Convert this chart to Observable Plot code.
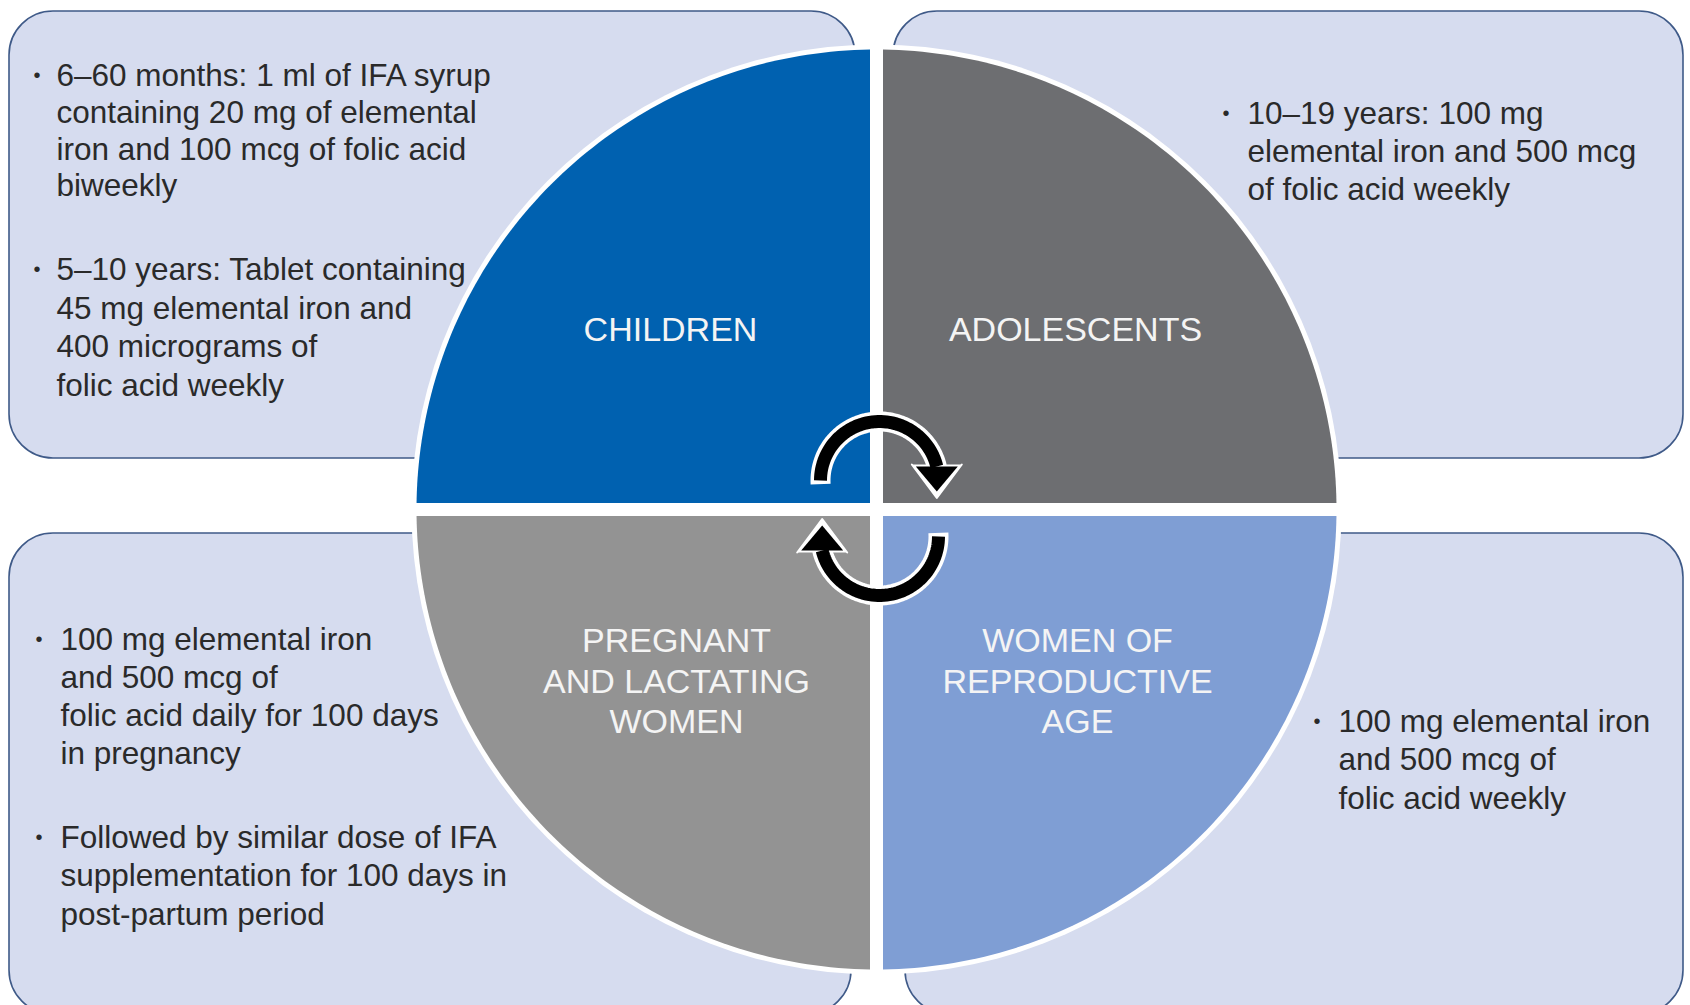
<!DOCTYPE html>
<html>
<head>
<meta charset="utf-8">
<script src="https://cdn.jsdelivr.net/npm/d3@7"></script>
<script src="https://cdn.jsdelivr.net/npm/@observablehq/plot@0.6"></script>
<style>
  html, body { margin: 0; padding: 0; background: #ffffff; }
  #chart svg { display: block; }
</style>
</head>
<body>
<div id="chart"></div>
<script>
// ---------- DATA ----------
const groups = ["CHILDREN", "ADOLESCENTS", "PREGNANT\nAND LACTATING\nWOMEN", "WOMEN OF\nREPRODUCTIVE\nAGE"];

const childrenBullets = [
  "6–60 months: 1 ml of IFA syrup\ncontaining 20 mg of elemental\niron and 100 mcg of folic acid\nbiweekly",
  "5–10 years: Tablet containing\n45 mg elemental iron and\n400 micrograms of\nfolic acid weekly"
];
const adolescentBullets = [
  "10–19 years: 100 mg\nelemental iron and 500 mcg\nof folic acid weekly"
];
const pregnantBullets = [
  "100 mg elemental iron\nand 500 mcg of\nfolic acid daily for 100 days\nin pregnancy",
  "Followed by similar dose of IFA\nsupplementation for 100 days in\npost-partum period"
];
const womenBullets = [
  "100 mg elemental iron\nand 500 mcg of\nfolic acid weekly"
];
const bulletsByGroup = [childrenBullets, adolescentBullets, pregnantBullets, womenBullets];

// ---------- STYLE / LAYOUT ----------
const palette = {
  quadrants: ["#0061b0", "#6d6e71", "#939393", "#7f9ed4"],
  boxFill: "#d6dcef",
  boxStroke: "#3f5a88",
  text: "#2a2a2a",
  label: "#f4f4f4"
};
const L = {
  W: 1690, H: 1005,
  cx: 876, cy: 509, R: 460, gap: 6.5,
  signs: [[-1, -1], [1, -1], [-1, 1], [1, 1]],
  boxes: [
    {x1: 9, x2: 855, y1: 11, y2: 458},
    {x1: 893, x2: 1683, y1: 11, y2: 458},
    {x1: 9, x2: 851, y1: 533, y2: 1014},
    {x1: 905, x2: 1683, y1: 533, y2: 1014}
  ],
  labelPos: [[670, 330], [1075, 330], [676, 641], [1077, 641]],
  labelLH: 40.5,
  // per group, per bullet: [bulletX, textX, firstLineY, lineHeight]
  blockPos: [
    [[33, 56, 75.5, 36.8], [33, 56, 269.5, 38.7]],
    [[1222, 1247, 113, 38.3]],
    [[35, 60, 639, 38.0], [35, 60, 837.5, 38.3]],
    [[1313, 1338, 721, 38.8]]
  ],
  // arrows: top arrow centre, radius, end angle; bottom arrow = 180° rotation about pivot
  arrowC: [879, 480], pivot: [879, 508], arrowR: 59, arrowEnd: 0.24,
  headW: 21, headL: 25
};

// ---------- DERIVED GEOMETRY ----------
const boxes = L.boxes.map((b, i) => ({...b, g: groups[i]}));

const quadPts = [];
const a0 = Math.asin(L.gap / L.R), a1 = Math.PI / 2 - a0;
L.signs.forEach(([sx, sy], qi) => {
  quadPts.push({q: qi, x: L.cx + sx * L.gap, y: L.cy + sy * L.gap});
  for (let k = 0; k <= 90; k++) {
    const a = a0 + (a1 - a0) * k / 90;
    quadPts.push({q: qi, x: L.cx + sx * L.R * Math.cos(a), y: L.cy + sy * L.R * Math.sin(a)});
  }
});
const halo = [];
for (let k = 0; k <= 120; k++) {
  const a = 2 * Math.PI * k / 120;
  halo.push({x: L.cx + (L.R + 5) * Math.cos(a), y: L.cy + (L.R + 5) * Math.sin(a)});
}

const labelRows = [];
groups.forEach((g, i) => {
  g.split("\n").forEach((t, j) => labelRows.push({x: L.labelPos[i][0], y: L.labelPos[i][1] + j * L.labelLH, t}));
});

const textRows = [], dotRows = [];
bulletsByGroup.forEach((list, gi) => {
  list.forEach((b, bi) => {
    const [bx, tx, y0, lh] = L.blockPos[gi][bi];
    dotRows.push({x: bx, y: y0});
    b.split("\n").forEach((t, j) => textRows.push({x: tx, y: y0 + j * lh, t}));
  });
});

function arrowGeom(extraArc, extraHead) {
  const [cx, cy] = L.arrowC, r = L.arrowR, e = L.arrowEnd;
  const arc = [];
  const start = Math.PI + extraArc, end = e - extraArc * 0.2;
  for (let k = 0; k <= 60; k++) {
    const a = start + (end - start) * k / 60;
    arc.push([cx + r * Math.cos(a), cy - r * Math.sin(a)]);
  }
  const bx = cx + r * Math.cos(e), by = cy - r * Math.sin(e);
  const w = L.headW + extraHead, l = L.headL + extraHead * 1.6;
  const head = [
    [bx - w, by - extraHead * 0.5],
    [bx, by + l],
    [bx + w, by - extraHead * 0.5]
  ];
  return {arc, head};
}
function rot([x, y]) { return [2 * L.pivot[0] - x, 2 * L.pivot[1] - y]; }
function arrowRows(extraArc, extraHead) {
  const g = arrowGeom(extraArc, extraHead);
  const arcs = [], heads = [];
  g.arc.forEach(p => arcs.push({a: 0, x: p[0], y: p[1]}));
  g.arc.map(rot).forEach(p => arcs.push({a: 1, x: p[0], y: p[1]}));
  g.head.forEach(p => heads.push({a: 0, x: p[0], y: p[1]}));
  g.head.map(rot).forEach(p => heads.push({a: 1, x: p[0], y: p[1]}));
  return {arcs, heads};
}
const arrowMain = arrowRows(0, 0);
const arrowHalo = arrowRows(0.06, 4);

const font = "'Liberation Sans', Arial, Helvetica, sans-serif";

const chart = Plot.plot({
  width: L.W, height: L.H,
  margin: 0,
  x: {domain: [0, L.W], range: [0, L.W], axis: null},
  y: {domain: [0, L.H], range: [0, L.H], axis: null},
  style: {fontFamily: font, background: "#ffffff"},
  marks: [
    Plot.rect(boxes, {x1: "x1", x2: "x2", y1: "y1", y2: "y2", rx: 44, ry: 44,
      fill: palette.boxFill, stroke: palette.boxStroke, strokeWidth: 1.6}),
    Plot.line(halo, {x: "x", y: "y", fill: "#ffffff", stroke: "none", curve: "linear"}),
    ...palette.quadrants.map((c, qi) =>
      Plot.line(quadPts.filter(d => d.q === qi), {x: "x", y: "y", fill: c, stroke: "none", curve: "linear"})),
    Plot.text(labelRows, {x: "x", y: "y", text: "t", fontSize: 34, fill: palette.label, textAnchor: "middle"}),
    // arrow halos (white outline)
    Plot.line(arrowHalo.arcs, {x: "x", y: "y", z: "a", stroke: "#ffffff", strokeWidth: 20, strokeLinecap: "butt", curve: "linear"}),
    Plot.line(arrowHalo.heads, {x: "x", y: "y", z: "a", fill: "#ffffff", stroke: "#ffffff", strokeWidth: 2, strokeLinejoin: "round", curve: "linear"}),
    // arrows
    Plot.line(arrowMain.arcs, {x: "x", y: "y", z: "a", stroke: "#000000", strokeWidth: 13, strokeLinecap: "butt", curve: "linear"}),
    Plot.line(arrowMain.heads, {x: "x", y: "y", z: "a", fill: "#000000", stroke: "none", curve: "linear"}),
    // bullet texts
    Plot.text(dotRows, {x: "x", y: "y", text: () => "•", fontSize: 20, fill: palette.text, textAnchor: "start"}),
    Plot.text(textRows, {x: "x", y: "y", text: "t", fontSize: 31.5, fill: palette.text, textAnchor: "start"})
  ]
});
document.getElementById("chart").appendChild(chart);
</script>
</body>
</html>
